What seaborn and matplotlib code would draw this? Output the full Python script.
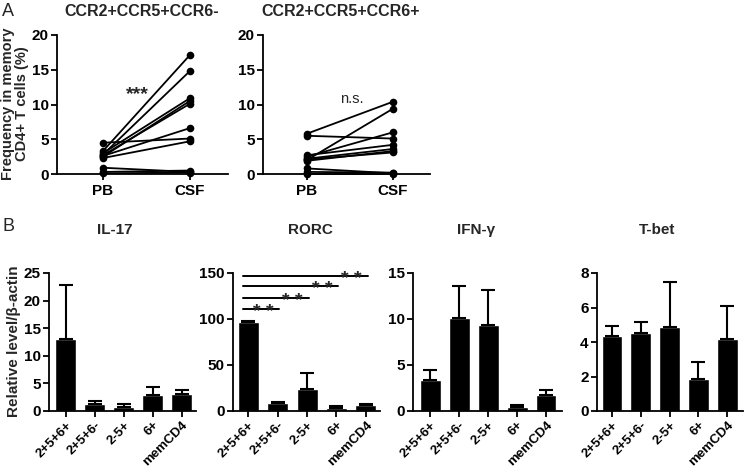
import numpy as np
import pandas as pd
import matplotlib
matplotlib.use("Agg")
import matplotlib.pyplot as plt
import seaborn as sns

# Panel A: paired PB vs CSF frequencies
pb_neg = [3.3, 2.8, 3.0, 2.5, 2.7, 2.6, 4.5, 2.3, 0.9, 0.3, 0.1]
csf_neg = [17.1, 14.8, 10.9, 10.5, 10.1, 6.6, 5.1, 4.7, 0.3, 0.5, 0.2]
pb_pos = [5.8, 5.5, 2.0, 2.5, 2.7, 2.2, 1.9, 2.1, 0.8, 0.3, 0.0]
csf_pos = [10.4, 5.1, 9.4, 6.0, 4.2, 3.6, 3.3, 3.1, 0.1, 0.2, 0.0]

# Panel B: relative expression (mean and upper error)
groups = ["2+5+6+", "2+5+6-", "2-5+", "6+", "memCD4"]
il17_mean = [13.0, 1.2, 0.7, 2.9, 3.0]
il17_err = [9.8, 0.6, 0.6, 1.4, 0.8]
rorc_mean = [96.6, 8.7, 23.5, 3.6, 6.9]
rorc_err = [1.1, 1.0, 17.3, 1.4, 1.0]
ifng_mean = [3.35, 10.1, 9.3, 0.4, 1.7]
ifng_err = [1.15, 3.5, 3.8, 0.2, 0.6]
tbet_mean = [4.37, 4.54, 4.89, 1.86, 4.2]
tbet_err = [0.57, 0.6, 2.6, 0.97, 1.9]

rorc_sig_y = [110.8, 122.7, 136.0, 146.8]

sns.set_style("ticks")
plt.rcParams['font.family'] = ['Liberation Sans', 'DejaVu Sans']
plt.rcParams['font.weight'] = 'bold'
plt.rcParams['axes.linewidth'] = 1.3
plt.rcParams['xtick.major.width'] = 1.3
plt.rcParams['ytick.major.width'] = 1.3
plt.rcParams['xtick.major.size'] = 4
plt.rcParams['ytick.major.size'] = 4
plt.rcParams['xtick.major.pad'] = 3
plt.rcParams['ytick.major.pad'] = 2
plt.rcParams['xtick.color'] = 'black'
plt.rcParams['ytick.color'] = 'black'
plt.rcParams['axes.edgecolor'] = 'black'

W, H = 745, 472
fig = plt.figure(figsize=(W / 100, H / 100), dpi=100)


def rect(l, r, t, b):
    return [l / W, 1 - b / H, (r - l) / W, (b - t) / H]


def paired(ax, pb, csf, xl):
    n = len(pb)
    df = pd.DataFrame({
        "subj": list(range(n)) * 2,
        "pos": [0] * n + [1] * n,
        "val": pb + csf,
    })
    sns.lineplot(data=df, x="pos", y="val", units="subj", estimator=None,
                 color="black", lw=1.3, marker="o", markersize=5.5,
                 markeredgewidth=0, ax=ax)
    ax.set_xlim(*xl)
    ax.set_ylim(0, 20)
    ax.set_yticks([0, 5, 10, 15, 20])
    ax.set_xticks([0, 1])
    ax.set_xticklabels(["PB", "CSF"])
    ax.set_xlabel("")
    ax.set_ylabel("")
    ax.tick_params(labelsize=11)
    sns.despine(ax=ax)
    for p in ax.lines:
        p.set_clip_on(False)


ax1 = fig.add_axes(rect(57, 228, 35, 174))
paired(ax1, pb_neg, csf_neg, (-0.53, 1.44))
ax1.text(0.40, 11.4, "***", ha="center", va="center", fontsize=14)

ax2 = fig.add_axes(rect(263, 430, 35, 174))
paired(ax2, pb_pos, csf_pos, (-0.51, 1.43))
ax2.text(0.52, 10.8, "n.s.", ha="center", va="center", fontsize=10.5,
         fontweight="normal")

fig.text(142 / W, 1 - 11 / H, "CCR2+CCR5+CCR6-", ha="center", va="center",
         fontsize=11.5)
fig.text(341 / W, 1 - 12 / H, "CCR2+CCR5+CCR6+", ha="center", va="center",
         fontsize=11.5)
fig.text(15 / W, 1 - 104 / H, "Frequency in memory\nCD4+ T cells (%)",
         rotation=90, ha="center", va="center", fontsize=10.5, linespacing=1.0)
fig.text(2 / W, 1 - 12 / H, "A", ha="left", va="center", fontsize=13,
         fontweight="normal")
fig.text(2 / W, 1 - 227 / H, "B", ha="left", va="center", fontsize=13,
         fontweight="normal")


def bars(ax, mean, err, xl, ymax, yt):
    df = pd.DataFrame({"grp": groups, "val": mean})
    sns.barplot(data=df, x="grp", y="val", color="black", width=0.72,
                errorbar=None, ax=ax, saturation=1)
    ax.errorbar(np.arange(len(mean)), mean, yerr=[np.zeros(len(err)), err],
                fmt="none", ecolor="black", elinewidth=1.5, capsize=5,
                capthick=1.5, clip_on=False)
    ax.set_xlim(*xl)
    ax.set_ylim(0, ymax)
    ax.set_yticks(yt)
    ax.set_xlabel("")
    ax.set_ylabel("")
    ax.tick_params(axis="y", labelsize=11)
    ax.tick_params(axis="x", labelsize=9.5, pad=2)
    plt.setp(ax.get_xticklabels(), rotation=45, ha="right",
             rotation_mode="anchor")
    sns.despine(ax=ax)


b1 = fig.add_axes(rect(49, 196, 273, 411))
bars(b1, il17_mean, il17_err, (-0.58, 4.49), 25, [0, 5, 10, 15, 20, 25])
b2 = fig.add_axes(rect(233, 380, 273, 411))
bars(b2, rorc_mean, rorc_err, (-0.52, 4.48), 150, [0, 50, 100, 150])
b3 = fig.add_axes(rect(413, 562, 273, 411))
bars(b3, ifng_mean, ifng_err, (-0.59, 4.55), 15, [0, 5, 10, 15])
b4 = fig.add_axes(rect(597, 743, 273, 411))
bars(b4, tbet_mean, tbet_err, (-0.52, 4.55), 8, [0, 2, 4, 6, 8])

# significance bars on RORC
for j, y in enumerate(rorc_sig_y):
    end = j + 1 + 0.06
    b2.plot([-0.17, end], [y, y], color="black", lw=1.4, clip_on=False)
    b2.annotate("* *", (end - 0.55, y), xytext=(0, -5.5),
                textcoords="offset points", ha="center", va="baseline",
                fontsize=14, annotation_clip=False)

for x, t in zip([115, 310, 476, 657], ["IL-17", "RORC", "IFN-γ", "T-bet"]):
    fig.text(x / W, 1 - 230 / H, t, ha="center", va="center", fontsize=11)

fig.text(14 / W, 1 - 341 / H, "Relative level/β-actin", rotation=90,
         ha="center", va="center", fontsize=11)

fig.savefig("out.png", dpi=100)
